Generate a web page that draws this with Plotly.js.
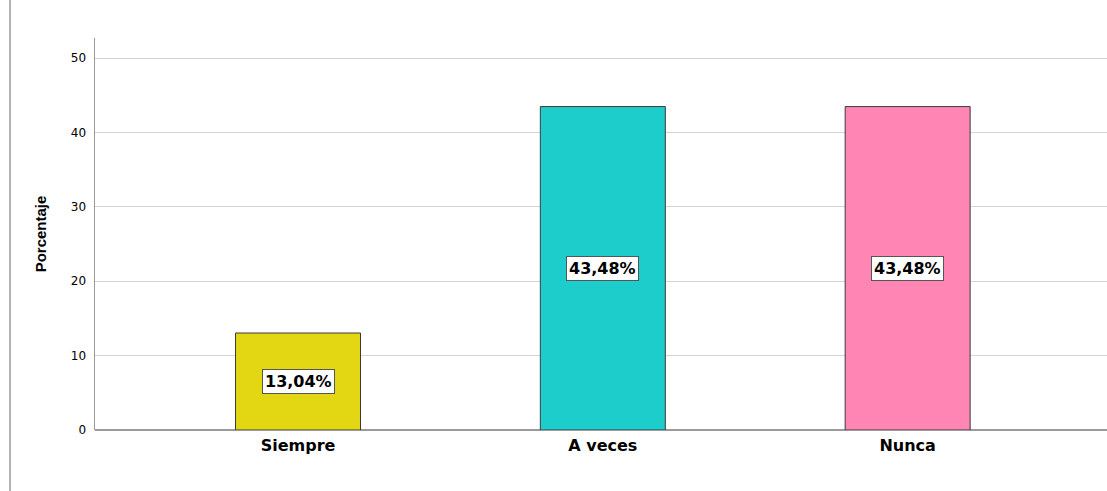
<!DOCTYPE html>
<html><head><meta charset="utf-8">
<script src="https://cdn.plot.ly/plotly-3.0.1.min.js"></script>
<style>html,body{margin:0;padding:0;background:#fff;}</style>
</head><body>
<div id="chart" style="width:1107px;height:491px;"></div>
<script>
const categories = ["Siempre", "A veces", "Nunca"];
const values = [13.04, 43.48, 43.48];
const labels = ["13,04%", "43,48%", "43,48%"];
const colors = ["#E2D712", "#1CCDCB", "#FF85B5"];
const yTicks = [0, 10, 20, 30, 40, 50];

const trace = {
  type: "bar",
  x: categories,
  y: values,
  width: 0.41,
  marker: {color: colors, line: {color: "#3a3a3a", width: 1}},
  hoverinfo: "none"
};

const annotations = categories.map((c, i) => ({
  x: c, y: values[i] / 2, xref: "x", yref: "y",
  text: "<b>" + labels[i] + "</b>",
  showarrow: false,
  font: {family: "DejaVu Sans, Verdana, sans-serif", size: 16, color: "#000"},
  bgcolor: "#ffffff", bordercolor: "#555", borderwidth: 1, borderpad: 2
}));

const layout = {
  width: 1107, height: 491,
  margin: {l: 95, r: 0, t: 38, b: 61},
  paper_bgcolor: "#fff", plot_bgcolor: "#fff",
  showlegend: false,
  bargap: 0,
  xaxis: {
    type: "category",
    range: [-0.666, 2.654],
    showgrid: false, zeroline: false,
    showline: false,
    ticks: "",
    tickfont: {family: "DejaVu Sans, Verdana, sans-serif", size: 16, color: "#000", weight: "bold"},
    ticklabelstandoff: 4
  },
  yaxis: {
    range: [0, 52.7],
    tickvals: yTicks,
    ticktext: yTicks.map(String),
    showgrid: true, gridcolor: "#d4d4d4", gridwidth: 1,
    zeroline: true, zerolinecolor: "#9a9a9a", zerolinewidth: 1.5,
    showline: true, linecolor: "#9a9a9a", linewidth: 1.5,
    ticks: "",
    tickfont: {family: "DejaVu Sans, Verdana, sans-serif", size: 12, color: "#000"},
    ticklabelstandoff: 5,
    title: {text: "Porcentaje", standoff: 20,
      font: {family: "Liberation Sans Narrow, Arial Narrow, Liberation Sans, sans-serif", size: 15, color: "#000", weight: "bold"}}
  },
  annotations: annotations,
  shapes: [{
    type: "line", xref: "paper", yref: "paper",
    x0: -85/1012, x1: -85/1012, y0: 1 + 38/392, y1: -61/392,
    line: {color: "#9a9a9a", width: 1.5}
  }]
};

Plotly.newPlot("chart", [trace], layout, {displayModeBar: false, staticPlot: true});
</script>
</body></html>
